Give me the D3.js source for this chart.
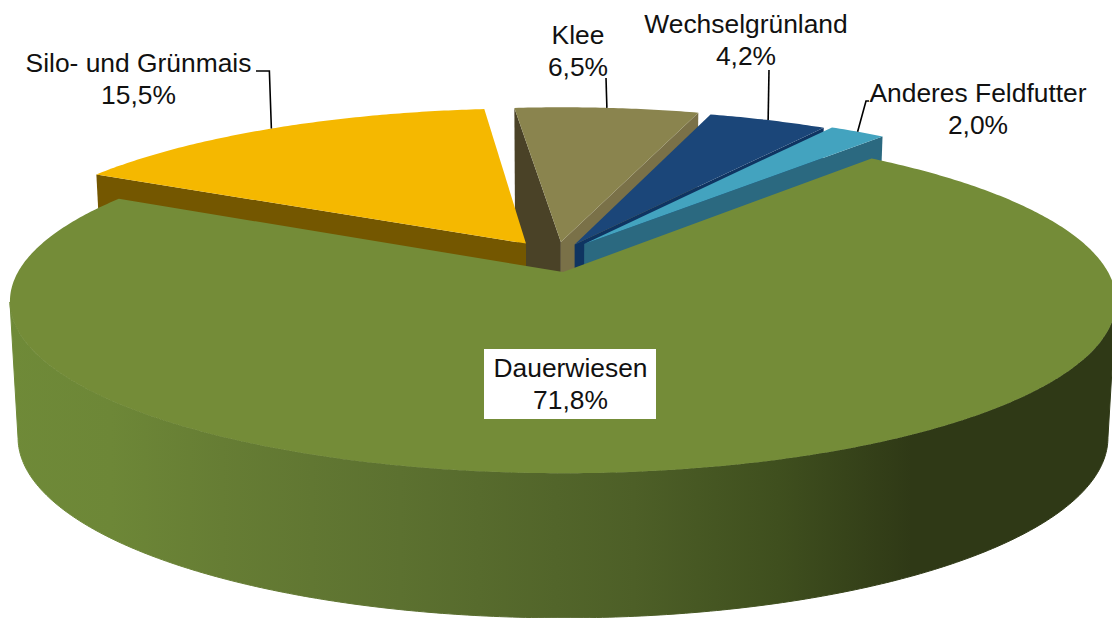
<!DOCTYPE html>
<html lang="de">
<head>
<meta charset="utf-8">
<title>Futterflaeche</title>
<script src="https://cdn.jsdelivr.net/npm/d3@7"></script>
<style>
    body { margin: 0; background: #fff; }
    svg { display: block; }
    text { font-family: "Liberation Sans", Arial, sans-serif; fill: #111; }
</style>
</head>
<body>
<script>
    // values, clockwise from the first slice
    var categories = ["Dauerwiesen", "Silo- und Grünmais", "Klee", "Wechselgrünland", "Anderes Feldfutter"];
    var shares = [71.8, 15.5, 6.5, 4.2, 2.0];

    // look of the slices
    var topColors = ["#748c38", "#f5b800", "#8a844e", "#1b4679", "#43a3bf"];
    var startFaceColors = ["#748c38", "#745700", "#4a4227", "#0f3461", "#2b6980"];
    var endFaceColors = ["#748c38", "#745700", "#7a7148", "#0f3461", "#2b6980"];
    // how far each slice is pulled out, in units of the pie radius
    var explodeU = [0, -0.07, -0.004, 0.022, 0.04];
    var explodeV = [0, 0.175, 0.185, 0.17, 0.173];
    var drawOrder = [2, 1, 3, 4, 0];

    // label text anchor (centre x, first baseline) and leader start
    var labelX = [570.5, 138.5, 578, 746, 978];
    var labelY = [377, 72, 44, 33, 102];
    var leaderX = [null, 256, 606, 769, 866];
    var leaderY = [null, 71, 78, 70, 101];

    var width = 1112;
    var height = 618;
    var fontSize = 26.4;
    var lineGap = 32;

    var svg = d3.select("body").append("svg")
        .attr("width", width)
        .attr("height", height);

    // perspective: top plane and bottom plane of the pie
    var k = 0.17;
    var topPlane = { cx: 563, cy: 272, rx: 545, ry: 167 };
    var bottomPlane = { cx: 563, cy: 407, rx: 537, ry: 175 };

    function project(plane, u, v) {
        var w = 1 + k * v;
        return [plane.cx + plane.rx * u / w, plane.cy - plane.ry * v / w];
    }

    var pie = d3.pie().sort(null)
        .startAngle(39.8 * Math.PI / 180)
        .endAngle((39.8 + 360) * Math.PI / 180);
    var slices = pie(shares);

    function rimPoint(plane, i, a) {
        return project(plane, Math.sin(a) + explodeU[i], Math.cos(a) + explodeV[i]);
    }
    function apex(plane, i) {
        return project(plane, explodeU[i], explodeV[i]);
    }
    function angles(s) {
        var n = Math.ceil((s.endAngle - s.startAngle) / 0.01);
        return d3.range(n + 1).map(j => s.startAngle + (s.endAngle - s.startAngle) * j / n);
    }

    var gradient = svg.append("defs").append("linearGradient")
        .attr("id", "side")
        .attr("gradientUnits", "userSpaceOnUse")
        .attr("x1", 0).attr("x2", width).attr("y1", 0).attr("y2", 0);
    gradient.selectAll("stop")
        .data([[0, "#6f8a38"], [0.1, "#6d8737"], [0.2, "#667d34"], [0.36, "#5c7130"], [0.57, "#4d5f27"], [0.7, "#3f4f1e"], [0.82, "#2f3916"], [1, "#2f3916"]])
        .join("stop")
        .attr("offset", d => d[0])
        .attr("stop-color", d => d[1]);

    var line = d3.line();

    // a radial wall can only be seen when the slice top lies above its edge
    function wallVisible(a, t, i) {
        var s = slices[i];
        var m = rimPoint(topPlane, i, (s.startAngle + s.endAngle) / 2);
        var lineY = a[1] + (t[1] - a[1]) * (m[0] - a[0]) / (t[0] - a[0]);
        return m[1] < lineY;
    }

    drawOrder.forEach(function (i) {
        var s = slices[i];
        var g = svg.append("g").attr("class", "slice");
        var sides = [[s.startAngle, startFaceColors[i]], [s.endAngle, endFaceColors[i]]];

        sides.forEach(function (side) {
            var a = apex(topPlane, i);
            var t = rimPoint(topPlane, i, side[0]);
            if (!wallVisible(a, t, i)) return;
            g.append("path")
                .attr("d", line([a, t, rimPoint(bottomPlane, i, side[0]), apex(bottomPlane, i)]) + "Z")
                .attr("fill", side[1]);
        });

        // outer wall, only the part between the two silhouette points faces us
        var front = angles(s).filter(a => Math.cos(a) < -k);
        if (front.length) {
            var wall = front.map(a => rimPoint(topPlane, i, a))
                .concat(front.slice().reverse().map(a => rimPoint(bottomPlane, i, a)));
            g.append("path")
                .attr("d", line(wall) + "Z")
                .attr("fill", "url(#side)")
                .attr("stroke", "url(#side)")
                .attr("stroke-width", 1);
        }

        var outline = [apex(topPlane, i)].concat(angles(s).map(a => rimPoint(topPlane, i, a)));
        g.append("path")
            .attr("d", line(outline) + "Z")
            .attr("fill", topColors[i]);
    });

    // leader lines run from the label to the middle of the slice rim
    slices.forEach(function (s, i) {
        if (leaderX[i] === null) return;
        var end = rimPoint(topPlane, i, (s.startAngle + s.endAngle) / 2);
        var pts = [[leaderX[i], leaderY[i]], end];
        if (i === 1) pts.splice(1, 0, [end[0] - 2, leaderY[i]]);
        if (i === 4) pts.splice(0, 1, [leaderX[i] + 3, leaderY[i]], [leaderX[i], leaderY[i]]);
        svg.append("path")
            .attr("d", line(pts))
            .attr("fill", "none")
            .attr("stroke", "#000")
            .attr("stroke-width", 1.6);
    });

    var de = d3.formatLocale({ decimal: ",", thousands: ".", grouping: [3], currency: ["", " €"] });
    var pct = de.format(".1f");

    svg.append("rect")
        .attr("x", 484).attr("y", 349)
        .attr("width", 172).attr("height", 70)
        .attr("fill", "#fff");

    categories.forEach(function (name, i) {
        var t = svg.append("text")
            .attr("text-anchor", "middle")
            .attr("font-size", fontSize);
        t.append("tspan").attr("x", labelX[i]).attr("y", labelY[i]).text(name);
        t.append("tspan").attr("x", labelX[i]).attr("y", labelY[i] + lineGap).text(pct(shares[i]) + "%");
    });
</script>
</body>
</html>
